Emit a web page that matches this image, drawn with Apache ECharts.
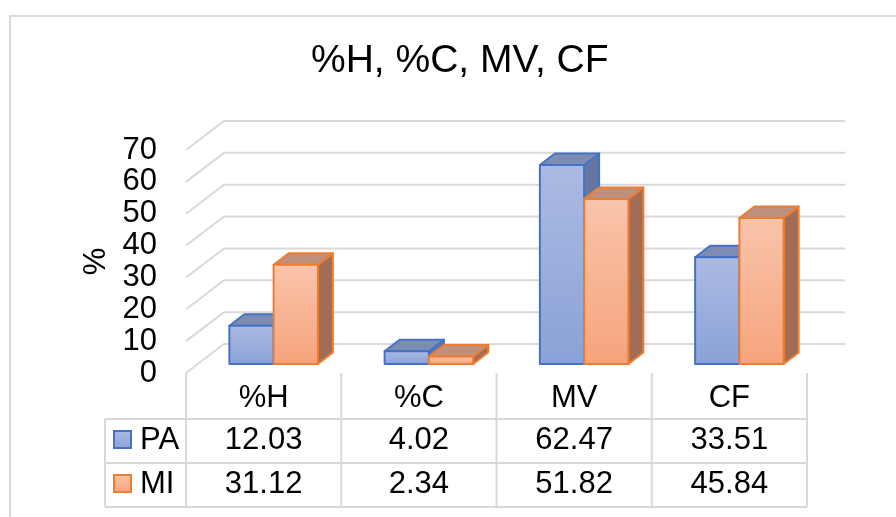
<!DOCTYPE html>
<html>
<head>
<meta charset="utf-8">
<script src="https://cdn.jsdelivr.net/npm/echarts@6/dist/echarts.min.js"></script>
<style>
  html, body { margin: 0; padding: 0; background: #fff; }
  #chart { width: 896px; height: 517px; }
</style>
</head>
<body>
<div id="chart"></div>
<script>
var categories = ['%H', '%C', 'MV', 'CF']
var seriesNames = ['PA', 'MI']
var paValues = [12.03, 4.02, 62.47, 33.51]
var miValues = [31.12, 2.34, 51.82, 45.84]
var yTicks = [0, 10, 20, 30, 40, 50, 60, 70]

var FONT = '"Liberation Sans", Arial, sans-serif'
var GRID_COLOR = '#d9d9d9'
// floor / side wall depth, bar depth and bar shift into the floor
var WALL_DX = 38
var WALL_DY = -29
var BAR_DX = 15
var BAR_DY = -11.5
var BAR_SHIFT_X = 10
var BAR_SHIFT_Y = -9

var styles = [
  { border: '#4472c4', top: '#7d8cb3', side: '#66779f', light: '#abbbe2', dark: '#8aa2d8' },
  { border: '#ed7d31', top: '#bf907d', side: '#a26d57', light: '#f9c4ab', dark: '#f6a47c' }
]
var allValues = [paValues, miValues]

function gradientFor (s) {
  return new echarts.graphic.LinearGradient(0, 0, 0, 1, [
    { offset: 0, color: s.light },
    { offset: 1, color: s.dark }
  ])
}

function renderGridLine (params, api) {
  var cs = params.coordSys
  var y = api.coord([0, api.value(1)])[1]
  return {
    type: 'polyline',
    silent: true,
    shape: {
      points: [
        [cs.x, y],
        [cs.x + WALL_DX, y + WALL_DY],
        [cs.x + cs.width + WALL_DX, y + WALL_DY]
      ]
    },
    style: { stroke: GRID_COLOR, lineWidth: 2, fill: null }
  }
}

function makeBarRender (k) {
  return function (params, api) {
    var i = api.value(0)
    var v = api.value(1)
    var base = api.coord([i, 0])
    var top = api.coord([i, v])
    var band = api.size([1, 0])[0]
    var w = band * 0.285
    var x0 = base[0] + BAR_SHIFT_X + (k === 0 ? -w : 0)
    var x1 = x0 + w
    var yb = base[1] + BAR_SHIFT_Y
    var yt = top[1] + BAR_SHIFT_Y
    var s = styles[k]
    var line = { stroke: s.border, lineWidth: 2, lineJoin: 'round' }
    return {
      type: 'group',
      children: [
        {
          type: 'polygon',
          shape: { points: [[x1, yb], [x1 + BAR_DX, yb + BAR_DY], [x1 + BAR_DX, yt + BAR_DY], [x1, yt]] },
          style: Object.assign({ fill: s.side }, line)
        },
        {
          type: 'polygon',
          shape: { points: [[x0, yt], [x1, yt], [x1 + BAR_DX, yt + BAR_DY], [x0 + BAR_DX, yt + BAR_DY]] },
          style: Object.assign({ fill: s.top }, line)
        },
        {
          type: 'rect',
          shape: { x: x0, y: yt, width: w, height: yb - yt },
          style: Object.assign({ fill: gradientFor(s) }, line)
        }
      ]
    }
  }
}

function cellText (txt, x, y, align) {
  return {
    type: 'text',
    silent: true,
    style: {
      text: txt, x: x, y: y,
      align: align || 'center', verticalAlign: 'middle',
      fill: '#000', fontSize: 31, fontFamily: FONT
    }
  }
}

function tableLine (x1, y1, x2, y2) {
  return {
    type: 'line',
    silent: true,
    shape: { x1: x1, y1: y1, x2: x2, y2: y2 },
    style: { stroke: GRID_COLOR, lineWidth: 2 }
  }
}

function renderTable (params, api) {
  var cs = params.coordSys
  var i = api.value(0)
  var cx = api.coord([i, 0])[0]
  var band = api.size([1, 0])[0]
  var yTop = cs.y + cs.height
  var r1 = yTop + 46
  var r2 = r1 + 44
  var r3 = r2 + 44
  var left = cs.x - 81
  var children = []
  children.push(tableLine(cx - band / 2, yTop, cx - band / 2, r3))
  children.push(cellText(categories[i], cx, yTop + 25))
  children.push(cellText(paValues[i].toFixed(2), cx, r1 + 21))
  children.push(cellText(miValues[i].toFixed(2), cx, r2 + 21))
  if (i === categories.length - 1) {
    children.push(tableLine(cx + band / 2, yTop, cx + band / 2, r3))
  }
  if (i === 0) {
    var right = cs.x + cs.width
    children.push(tableLine(left, r1, right, r1))
    children.push(tableLine(left, r2, right, r2))
    children.push(tableLine(left, r3, right, r3))
    children.push(tableLine(left, r1, left, r3))
    var rows = [r1, r2]
    for (var k = 0; k < seriesNames.length; k++) {
      var s = styles[k]
      children.push({
        type: 'rect',
        silent: true,
        shape: { x: left + 9, y: rows[k] + 12, width: 17, height: 17 },
        style: { fill: gradientFor(s), stroke: s.border, lineWidth: 2 }
      })
      children.push(cellText(seriesNames[k], left + 35, rows[k] + 21, 'left'))
    }
  }
  return { type: 'group', children: children }
}

var chart = echarts.init(document.getElementById('chart'))
var option = {
  animation: false,
  title: {
    text: '%H, %C, MV, CF',
    left: 311,
    top: 42,
    padding: 0,
    textStyle: { fontSize: 39, fontWeight: 'normal', color: '#000', fontFamily: FONT }
  },
  grid: { left: 186, right: 89, top: 150, bottom: 144 },
  xAxis: {
    type: 'category',
    data: categories,
    show: false
  },
  yAxis: {
    type: 'value',
    min: 0,
    max: 70,
    interval: 10,
    name: '%',
    nameLocation: 'middle',
    nameGap: 72,
    nameTextStyle: { fontSize: 31, color: '#000', fontFamily: FONT },
    axisLine: { show: false },
    axisTick: { show: false },
    splitLine: { show: false },
    axisLabel: { fontSize: 31, color: '#000', margin: 29, fontFamily: FONT }
  },
  graphic: [
    {
      type: 'rect',
      silent: true,
      z: -10,
      shape: { x: 10, y: 16, width: 1000, height: 600 },
      style: { fill: null, stroke: GRID_COLOR, lineWidth: 2 }
    }
  ],
  series: [
    {
      type: 'custom',
      name: 'grid',
      renderItem: renderGridLine,
      encode: { x: 0, y: 1 },
      data: yTicks.map(function (t) { return [0, t] }),
      z: 1
    },
    {
      type: 'custom',
      name: seriesNames[0],
      renderItem: makeBarRender(0),
      encode: { x: 0, y: 1 },
      data: allValues[0].map(function (v, i) { return [i, v] }),
      z: 2
    },
    {
      type: 'custom',
      name: seriesNames[1],
      renderItem: makeBarRender(1),
      encode: { x: 0, y: 1 },
      data: allValues[1].map(function (v, i) { return [i, v] }),
      z: 3
    },
    {
      type: 'custom',
      name: 'table',
      renderItem: renderTable,
      encode: { x: 0, y: 1 },
      data: categories.map(function (c, i) { return [i, 0] }),
      z: 4
    }
  ]
}
chart.setOption(option)
</script>
</body>
</html>
